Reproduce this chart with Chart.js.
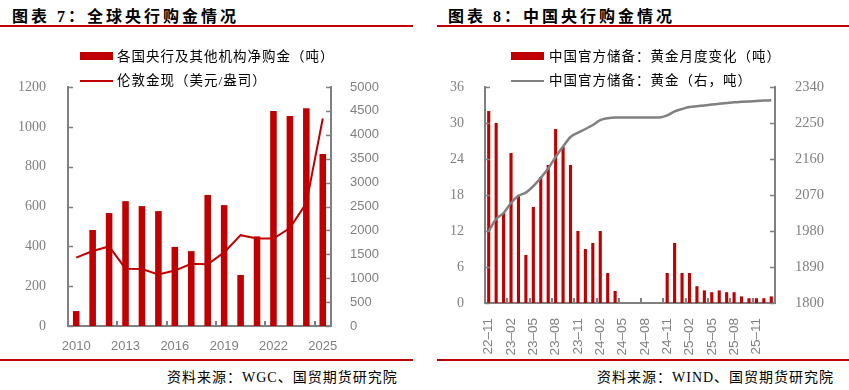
<!DOCTYPE html>
<html>
<head>
<meta charset="utf-8">
<script src="https://cdn.jsdelivr.net/npm/chart.js@4"></script>
<style>
    body { margin: 0; width: 849px; height: 390px; background: #fff; position: relative; overflow: hidden; }
    .title { position: absolute; top: 3px; font: bold 16px "Liberation Serif", "Noto Sans CJK SC"; letter-spacing: 3px; color: #000; }
    .rule { position: absolute; height: 2px; background: #c00000; }
    .src { position: absolute; top: 366px; font: 14px "Liberation Serif", "Noto Sans CJK SC"; color: #000; letter-spacing: 1px; }
    .leg { position: absolute; font: 13.5px "Liberation Serif", "Noto Sans CJK SC"; color: #000; letter-spacing: 1px; line-height: 16px; }
    .sw { position: absolute; }
    canvas { position: absolute; top: 0; }
</style>
</head>
<body>
<div class="title" style="left:12px">图表 7：全球央行购金情况</div>
<div class="rule" style="left:0;top:25px;width:413px"></div>
<div class="title" style="left:448px">图表 8：中国央行购金情况</div>
<div class="rule" style="left:437px;top:25px;width:412px"></div>

<canvas id="chartLeft" width="413" height="360" style="left:0"></canvas>
<canvas id="chartRight" width="424" height="360" style="left:425px"></canvas>

<!-- legends -->
<div class="sw" style="left:80px;top:52px;width:33px;height:8px;background:#c00000"></div>
<div class="leg" style="left:117px;top:49px">各国央行及其他机构净购金（吨）</div>
<div class="sw" style="left:80px;top:80px;width:33px;height:2px;background:#c00000"></div>
<div class="leg" style="left:117px;top:73px">伦敦金现（美元/盎司）</div>

<div class="sw" style="left:511px;top:52px;width:33px;height:8px;background:#c00000"></div>
<div class="leg" style="left:549px;top:49px">中国官方储备：黄金月度变化（吨）</div>
<div class="sw" style="left:511px;top:80px;width:33px;height:2px;background:#808080"></div>
<div class="leg" style="left:549px;top:73px">中国官方储备：黄金（右，吨）</div>

<div class="rule" style="left:0;top:359px;width:413px"></div>
<div class="rule" style="left:437px;top:359px;width:412px"></div>
<div class="src" style="left:167px">资料来源：WGC、国贸期货研究院</div>
<div class="src" style="left:597px">资料来源：WIND、国贸期货研究院</div>

<script>
// 图表7 数据
const years = ['2010', '2011', '2012', '2013', '2014', '2015', '2016', '2017', '2018', '2019', '2020', '2021', '2022', '2023', '2024', '2025'];
const cbBuying = [75, 482, 567, 627, 602, 577, 397, 376, 658, 607, 256, 450, 1079, 1054, 1093, 863];
const goldPrice = [1430, 1570, 1665, 1200, 1190, 1080, 1160, 1300, 1290, 1540, 1900, 1830, 1830, 2050, 2570, 4340];

// 图表8 数据
const months = ['22-11', '22-12', '23-01', '23-02', '23-03', '23-04', '23-05', '23-06', '23-07', '23-08', '23-09', '23-10',
    '23-11', '23-12', '24-01', '24-02', '24-03', '24-04', '24-05', '24-06', '24-07', '24-08', '24-09', '24-10',
    '24-11', '24-12', '25-01', '25-02', '25-03', '25-04', '25-05', '25-06', '25-07', '25-08', '25-09', '25-10',
    '25-11', '25-12', '26-01'];
const cnMonthly = [32, 30, 15, 25, 18, 8, 16, 21, 23, 29, 26, 23,
    12, 9, 10, 12, 5, 2, 0, 0, 0, 0, 0, 0,
    5, 10, 5, 5, 2.8, 2.1, 1.8, 2.1, 1.8, 1.8, 1.1, 0.8,
    0.8, 0.8, 1.1];
const cnReserve = [1980, 2010, 2025, 2050, 2068, 2076, 2092, 2113, 2136, 2165, 2191, 2215,
    2226, 2235, 2245, 2257, 2262, 2264, 2264, 2264, 2264, 2264, 2264, 2264,
    2269, 2279, 2285, 2290, 2292, 2294, 2296, 2298, 2300, 2302, 2303, 2304,
    2305, 2306, 2307];

const RED = '#c00000';
const GREY = '#808080';

// petits traits de graduation vers l'intérieur (style Excel)
const insideTicks = {
    id: 'insideTicks',
    afterDraw(chart) {
        const ctx = chart.ctx;
        const area = chart.chartArea;
        ctx.save();
        ctx.strokeStyle = GREY;
        ctx.lineWidth = 1.5;
        ['y', 'y1'].forEach(id => {
            const s = chart.scales[id];
            s.ticks.forEach(t => {
                const py = Math.round(s.getPixelForValue(t.value)) + 0.5;
                ctx.beginPath();
                if (s.position === 'left') { ctx.moveTo(area.left, py); ctx.lineTo(area.left + 5, py); }
                else { ctx.moveTo(area.right, py); ctx.lineTo(area.right - 5, py); }
                ctx.stroke();
            });
        });
        const n = chart.data.labels.length;
        const step = area.width / n;
        ctx.lineWidth = 2;
        for (let i = 3; i < n; i += 3) {
            const px = Math.round(area.left + i * step);
            ctx.beginPath();
            ctx.moveTo(px, area.bottom);
            ctx.lineTo(px, area.bottom - 5);
            ctx.stroke();
        }
        ctx.restore();
    }
};

const plain = value => String(value); // pas de séparateur de milliers

new Chart(document.getElementById('chartLeft'), {
    type: 'bar',
    data: {
        labels: years,
        datasets: [
            {
                type: 'line',
                label: '伦敦金现（美元/盎司）',
                data: goldPrice,
                yAxisID: 'y1',
                borderColor: RED,
                borderWidth: 2,
                pointRadius: 0,
                tension: 0,
                order: 0,
            },
            {
                label: '各国央行及其他机构净购金（吨）',
                data: cbBuying,
                yAxisID: 'y',
                backgroundColor: RED,
                barPercentage: 0.4,
                categoryPercentage: 1,
                order: 1,
            },
        ],
    },
    options: {
        responsive: false,
        animation: false,
        devicePixelRatio: 1,
        layout: { padding: { top: 87, left: 0, right: 0, bottom: 0 } },
        plugins: { legend: { display: false }, tooltip: { enabled: false } },
        scales: {
            x: {
                grid: { display: false },
                border: { color: GREY, width: 2 },
                ticks: {
                    autoSkip: false, maxRotation: 0, padding: 5, color: GREY,
                    font: { family: 'Liberation Sans', size: 13 },
                    callback: (value, index) => index % 3 === 0 ? years[index] : '',
                },
                afterFit: s => { s.height = 34; },
            },
            y: {
                position: 'left',
                min: 0, max: 1200,
                grid: { display: false },
                border: { color: GREY, width: 2 },
                ticks: { stepSize: 200, padding: 14, color: GREY, font: { family: 'Liberation Serif', size: 14 }, callback: plain },
                afterFit: s => { s.width = 68; },
            },
            y1: {
                position: 'right',
                min: 0, max: 5000,
                grid: { display: false },
                border: { color: GREY, width: 2 },
                ticks: { stepSize: 500, padding: 11, color: GREY, font: { family: 'Liberation Sans', size: 13 }, callback: plain },
                afterFit: s => { s.width = 82; },
            },
        },
    },
    plugins: [insideTicks],
});

new Chart(document.getElementById('chartRight'), {
    type: 'bar',
    data: {
        labels: months,
        datasets: [
            {
                type: 'line',
                label: '中国官方储备：黄金（右，吨）',
                data: cnReserve,
                yAxisID: 'y1',
                borderColor: GREY,
                borderWidth: 2.5,
                pointRadius: 0,
                cubicInterpolationMode: 'monotone',
                order: 0,
            },
            {
                label: '中国官方储备：黄金月度变化（吨）',
                data: cnMonthly,
                yAxisID: 'y',
                backgroundColor: RED,
                barPercentage: 0.42,
                categoryPercentage: 1,
                order: 1,
            },
        ],
    },
    options: {
        responsive: false,
        animation: false,
        devicePixelRatio: 1,
        layout: { padding: { top: 87, left: 0, right: 0, bottom: 0 } },
        plugins: { legend: { display: false }, tooltip: { enabled: false } },
        scales: {
            x: {
                grid: { display: false },
                border: { color: GREY, width: 2 },
                ticks: {
                    autoSkip: false, minRotation: 90, maxRotation: 90, padding: 7, color: GREY,
                    font: { family: 'Liberation Sans', size: 13.5 },
                    callback: (value, index) => index % 3 === 0 ? months[index].replace('-', '–') : '',
                },
                afterFit: s => { s.height = 57; },
            },
            y: {
                position: 'left',
                min: 0, max: 36,
                grid: { display: false },
                border: { color: GREY, width: 2 },
                ticks: { stepSize: 6, padding: 13, color: GREY, font: { family: 'Liberation Serif', size: 14 }, callback: plain },
                afterFit: s => { s.width = 60; },
            },
            y1: {
                position: 'right',
                min: 1800, max: 2340,
                grid: { display: false },
                border: { color: GREY, width: 2 },
                ticks: { stepSize: 90, padding: 12, color: GREY, font: { family: 'Liberation Serif', size: 14.5 }, callback: plain },
                afterFit: s => { s.width = 74; },
            },
        },
    },
    plugins: [insideTicks],
});
</script>
</body>
</html>
